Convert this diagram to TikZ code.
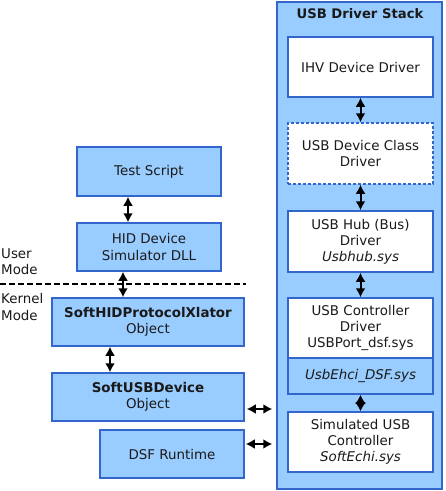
\documentclass[tikz,border=0pt]{standalone}
\usepackage{fontspec}
\setmainfont{DejaVu Sans}
\usetikzlibrary{arrows.meta}
\definecolor{boxfill}{HTML}{99CCFF}
\definecolor{boxline}{HTML}{3366CC}
\definecolor{txt}{HTML}{1A1A1A}
\tikzset{
    blk/.style={draw=boxline, line width=1.5pt, fill=boxfill, align=center, inner sep=0pt, text=txt},
    wblk/.style={blk, fill=white, minimum width=145pt, minimum height=60pt},
    link/.style={line width=2pt, {Latex[length=9pt,width=10pt]}-{Latex[length=9pt,width=10pt]}}
}
\begin{document}
\begin{tikzpicture}[x=1pt, y=-1pt, font=\fontsize{13.4}{16.2}\selectfont]
    \useasboundingbox (0,0) rectangle (446,491);
    % driver stack
    \node[blk, minimum width=165pt, minimum height=487pt] (stack) at (359.5,245.5) {};
    \node[text=txt, font=\fontsize{13.2}{16}\selectfont\bfseries] (title) at (360,14) {USB Driver Stack};
    \node[wblk] (ihv) at (360.5,67) {IHV Device Driver};
    \node[wblk, dashed, dash pattern=on 3pt off 2pt, minimum height=61pt] (cls) at (360.5,153.5) {USB Device Class\\Driver};
    \node[wblk, minimum height=61pt] (hub) at (360.5,241.5) {USB Hub (Bus)\\Driver\\\textit{Usbhub.sys}};
    \node[wblk] (ctl) at (360.5,328) {USB Controller\\Driver\\USBPort\_dsf.sys};
    \node[blk, minimum width=145pt, minimum height=36pt] (ehci) at (360.5,376) {\textit{UsbEhci\_DSF.sys}};
    \node[wblk] (sim) at (360.5,442) {Simulated USB\\Controller\\\textit{SoftEchi.sys}};
    \draw[link] (ihv) -- (cls);
    \draw[link] (cls) -- (hub);
    \draw[link] (hub) -- (ctl);
    \draw[line width=2pt, {Latex[length=9pt,width=11pt]}-{Latex[length=9pt,width=11pt]}] (ehci) -- (sim);
    % user / kernel side
    \node[blk, minimum width=144pt, minimum height=49pt] (test) at (149,171.5) {Test Script};
    \node[blk, minimum width=144pt, minimum height=48pt] (hid) at (149,247) {HID Device\\Simulator DLL};
    \node[blk, minimum width=192pt, minimum height=48pt] (xlat) at (148,322) {\textbf{SoftHIDProtocolXlator}\\Object};
    \node[blk, minimum width=192pt, minimum height=48pt] (sdev) at (148,397) {\textbf{SoftUSBDevice}\\Object};
    \node[blk, minimum width=144pt, minimum height=48pt] (dsf) at (172,454) {DSF Runtime};
    \draw[black, line width=1.5pt, dash pattern=on 6pt off 3pt] (0,284) coordinate (ml) -- (246,284) coordinate (mr);
    \node[anchor=west, align=left, text=txt, inner sep=0pt] (user) at (1,262) {User\\Mode};
    \node[anchor=west, align=left, text=txt, inner sep=0pt] (kern) at (1,307) {Kernel\\Mode};
    \draw[link] ([xshift=-21pt]test.south) -- ([xshift=-21pt]hid.north);
    \draw[link] ([xshift=-26pt]hid.south) -- ([xshift=-25pt]xlat.north);
    \draw[link] ([xshift=-38pt]xlat.south) -- ([xshift=-38pt]sdev.north);
    \draw[link, shorten <=2pt, shorten >=4pt] ([yshift=-12pt]sdev.east) -- ([yshift=-12pt]sdev.east -| stack.west);
    \draw[link, shorten <=1pt, shorten >=4pt] ([yshift=10pt]dsf.east) -- ([yshift=10pt]dsf.east -| stack.west);
\end{tikzpicture}
\end{document}
